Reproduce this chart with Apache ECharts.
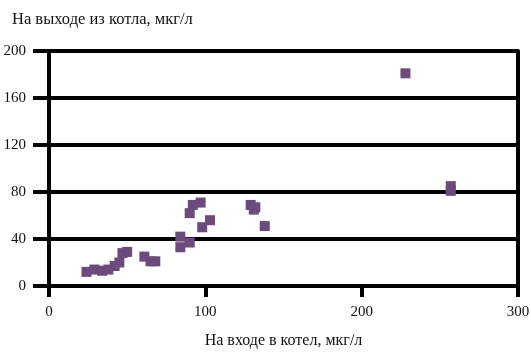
<!DOCTYPE html>
<html lang="ru">
	<head>
		<meta charset="utf-8" />
		<title>Scatter</title>
		<style>
			html, body { margin: 0; padding: 0; background: #fff; }
			#chart { width: 531px; height: 352px; }
		</style>
	</head>
	<body>
		<div id="chart"></div>
		<script src="https://cdn.jsdelivr.net/npm/echarts@6/dist/echarts.min.js"></script>
		<script type="text/javascript">
			// на входе (x) и на выходе (y), мкг/л
			const inletValues = [24, 29, 34, 38, 42, 45, 47, 50, 61, 65, 68, 84, 84, 90, 90, 92, 97, 98, 103, 129, 131, 132, 138, 228, 257, 257];
			const outletValues = [12, 14, 13, 14, 17, 20, 28, 29, 25, 21, 21, 42, 33, 37, 62, 69, 71, 50, 56, 69, 65, 67, 51, 181, 85, 81];
			const xTicks = [0, 100, 200, 300];
			const yTicks = [0, 40, 80, 120, 160, 200];

			const points = inletValues.map((v, i) => [v, outletValues[i]]);
			const font = '"Liberation Serif", "DejaVu Serif", serif';

			const chart = echarts.init(document.getElementById('chart'));
			chart.setOption({
				animation: false,
				backgroundColor: '#fff',
				title: {
					text: 'На выходе из котла, мкг/л',
					left: 12,
					top: 11,
					padding: 0,
					textStyle: { fontFamily: font, fontSize: 16.5, fontWeight: 'normal', color: '#111' },
				},
				grid: { left: 49, right: 13, top: 51, bottom: 66, outerBoundsMode: 'none', containLabel: false },
				xAxis: {
					type: 'value',
					min: xTicks[0],
					max: xTicks[xTicks.length - 1],
					interval: 100,
					name: 'На входе в котел, мкг/л',
					nameLocation: 'middle',
					nameGap: 47,
					nameTextStyle: { fontFamily: font, fontSize: 16, color: '#111' },
					axisLine: { lineStyle: { color: '#000', width: 4 } },
					axisTick: { length: 11, lineStyle: { color: '#000', width: 4 } },
					axisLabel: { margin: 19, fontFamily: font, fontSize: 15, color: '#111' },
					splitLine: { show: false },
				},
				yAxis: [
					{
						type: 'value',
						min: yTicks[0],
						max: yTicks[yTicks.length - 1],
						interval: 40,
						axisLine: { show: true, lineStyle: { color: '#000', width: 4 } },
						axisTick: { show: true, length: 16, lineStyle: { color: '#000', width: 4 } },
						axisLabel: { margin: 23, fontFamily: font, fontSize: 15, color: '#111' },
						splitLine: { lineStyle: { color: '#000', width: 4 } },
					},
					{
						type: 'value',
						position: 'right',
						min: 0,
						max: 200,
						interval: 40,
						axisLine: { show: true, lineStyle: { color: '#000', width: 4 } },
						axisTick: { show: false },
						axisLabel: { show: false },
						splitLine: { show: false },
					},
				],
				series: [
					{
						type: 'scatter',
						symbol: 'rect',
						symbolSize: 10,
						itemStyle: { color: '#6d4a7c', opacity: 1 },
						data: points,
					},
				],
			});
		</script>
	</body>
</html>
